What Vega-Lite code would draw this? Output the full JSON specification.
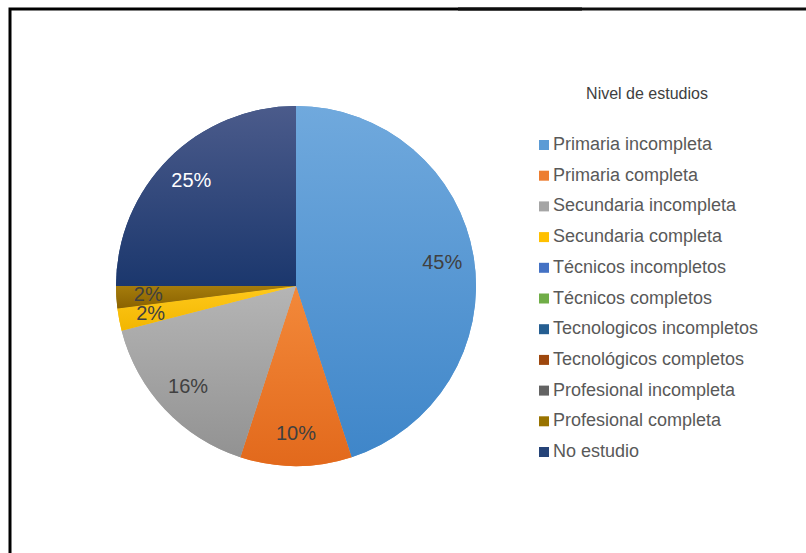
{
  "$schema": "https://vega.github.io/schema/vega-lite/v6.json",
  "width": 572,
  "height": 554,
  "autosize": {"type": "none"},
  "padding": {"left": 10, "top": 9, "right": 224, "bottom": 0},
  "background": "white",
  "view": {"stroke": "black", "strokeWidth": 3, "strokeDash": [572, 1126, 554]},
  "data": {
    "values": [
      {"nivel": "Primaria incompleta", "pct": 0.45, "orden": 1},
      {"nivel": "Primaria completa", "pct": 0.10, "orden": 2},
      {"nivel": "Secundaria incompleta", "pct": 0.16, "orden": 3},
      {"nivel": "Secundaria completa", "pct": 0.02, "orden": 4},
      {"nivel": "Técnicos incompletos", "pct": 0, "orden": 5},
      {"nivel": "Técnicos completos", "pct": 0, "orden": 6},
      {"nivel": "Tecnologicos incompletos", "pct": 0, "orden": 7},
      {"nivel": "Tecnológicos completos", "pct": 0, "orden": 8},
      {"nivel": "Profesional incompleta", "pct": 0, "orden": 9},
      {"nivel": "Profesional completa", "pct": 0.02, "orden": 10},
      {"nivel": "No estudio", "pct": 0.25, "orden": 11}
    ]
  },
  "layer": [
    {
      "mark": {"type": "arc", "outerRadius": 180},
      "encoding": {
        "theta": {"field": "pct", "type": "quantitative", "stack": true},
        "order": {"field": "orden", "type": "quantitative"},
        "color": {
          "field": "nivel",
          "type": "nominal",
          "scale": {
            "domain": ["Primaria incompleta", "Primaria completa", "Secundaria incompleta", "Secundaria completa", "Técnicos incompletos", "Técnicos completos", "Tecnologicos incompletos", "Tecnológicos completos", "Profesional incompleta", "Profesional completa", "No estudio"],
            "range": ["#5B9BD5", "#ED7D31", "#A5A5A5", "#FFC000", "#4472C4", "#70AD47", "#255E91", "#9E480E", "#636363", "#997300", "#264478"]
          },
          "legend": {
            "orient": "none",
            "legendX": 448,
            "legendY": 0,
            "title": "Nivel de estudios",
            "titleFont": "Liberation Sans",
            "titleFontSize": 16,
            "titleFontWeight": "normal",
            "titleColor": "#404040",
            "titleAnchor": "middle",
            "titlePadding": 34,
            "labelFont": "Liberation Sans",
            "labelFontSize": 18,
            "labelColor": "#595959",
            "labelLimit": 0,
            "labelOffset": 0,
            "symbolType": "square",
            "symbolSize": 100,
            "symbolStrokeWidth": 0,
            "rowPadding": 12.7,
            "padding": 77,
            "strokeColor": "#0d0d0d"
          }
        }
      }
    },
    {
      "mark": {"type": "arc", "outerRadius": 180},
      "encoding": {
        "theta": {"field": "pct", "type": "quantitative", "stack": true},
        "order": {"field": "orden", "type": "quantitative"},
        "fill": {
          "condition": [
            {"test": "datum.nivel === 'Primaria incompleta'", "value": {"gradient": "linear", "x1": 0, "y1": 0, "x2": 0, "y2": 1, "stops": [{"offset": 0, "color": "#70A9DD"}, {"offset": 1, "color": "#3F86C9"}]}},
            {"test": "datum.nivel === 'Primaria completa'", "value": {"gradient": "linear", "x1": 0, "y1": 0, "x2": 0, "y2": 1, "stops": [{"offset": 0, "color": "#F3893A"}, {"offset": 1, "color": "#E2691C"}]}},
            {"test": "datum.nivel === 'Secundaria incompleta'", "value": {"gradient": "linear", "x1": 0, "y1": 0, "x2": 0, "y2": 1, "stops": [{"offset": 0, "color": "#B5B5B5"}, {"offset": 1, "color": "#929292"}]}},
            {"test": "datum.nivel === 'Secundaria completa'", "value": {"gradient": "linear", "x1": 0, "y1": 0, "x2": 0, "y2": 1, "stops": [{"offset": 0, "color": "#FFC91C"}, {"offset": 1, "color": "#F2B600"}]}},
            {"test": "datum.nivel === 'Profesional completa'", "value": {"gradient": "linear", "x1": 0, "y1": 0, "x2": 0, "y2": 1, "stops": [{"offset": 0, "color": "#A57C0C"}, {"offset": 1, "color": "#8A6200"}]}},
            {"test": "datum.nivel === 'No estudio'", "value": {"gradient": "linear", "x1": 0, "y1": 0, "x2": 0, "y2": 1, "stops": [{"offset": 0, "color": "#4B5B8B"}, {"offset": 1, "color": "#1B376D"}]}}
          ],
          "value": "#636363"
        }
      }
    },
    {
      "transform": [{"filter": "datum.pct > 0"}],
      "mark": {"type": "text", "radius": 148, "font": "Liberation Sans", "fontSize": 20},
      "encoding": {
        "theta": {"field": "pct", "type": "quantitative", "stack": true},
        "order": {"field": "orden", "type": "quantitative"},
        "text": {"field": "pct", "type": "quantitative", "format": ".0%"},
        "color": {
          "condition": {"test": "datum.nivel === 'No estudio'", "value": "white"},
          "value": "#404040"
        }
      }
    }
  ],
  "config": {
    "legend": {"strokeWidth": 3, "strokeDash": [600, 5000]}
  }
}
